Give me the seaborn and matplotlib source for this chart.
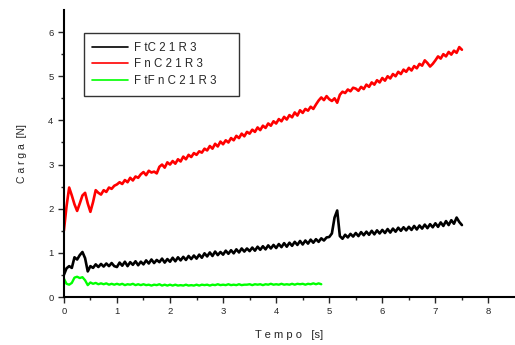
import matplotlib
matplotlib.use("Agg")
import matplotlib.pyplot as plt
import seaborn as sns
import pandas as pd
import numpy as np

# --- DATA (0.05 s steps) ---
step = 0.05

ftc = [0.50, 0.65, 0.70, 0.66, 0.90, 0.85, 0.95, 1.02, 0.88, 0.58,
       0.70, 0.66, 0.74, 0.68, 0.75, 0.69, 0.76, 0.70, 0.77, 0.70,
       0.68, 0.78, 0.71, 0.80, 0.70, 0.79, 0.73, 0.81, 0.72, 0.80,
       0.74, 0.83, 0.76, 0.85, 0.77, 0.84, 0.79, 0.87, 0.78, 0.86,
       0.80, 0.89, 0.81, 0.90, 0.83, 0.91, 0.84, 0.93, 0.86, 0.94,
       0.87, 0.96, 0.89, 0.99, 0.92, 1.01, 0.93, 1.03, 0.95, 1.02,
       0.96, 1.05, 0.98, 1.06, 0.99, 1.08, 1.01, 1.10, 1.03, 1.10,
       1.04, 1.12, 1.05, 1.14, 1.07, 1.15, 1.08, 1.17, 1.10, 1.18,
       1.11, 1.20, 1.13, 1.22, 1.14, 1.23, 1.16, 1.25, 1.18, 1.27,
       1.19, 1.28, 1.21, 1.30, 1.23, 1.31, 1.25, 1.33, 1.28, 1.35,
       1.36, 1.44, 1.80, 1.96, 1.38, 1.32, 1.41, 1.35, 1.43, 1.37,
       1.45, 1.38, 1.47, 1.40, 1.48, 1.41, 1.50, 1.42, 1.51, 1.44,
       1.52, 1.45, 1.54, 1.46, 1.55, 1.48, 1.57, 1.50, 1.58, 1.51,
       1.59, 1.52, 1.61, 1.53, 1.62, 1.55, 1.64, 1.56, 1.65, 1.58,
       1.67, 1.59, 1.69, 1.61, 1.72, 1.63, 1.74, 1.66, 1.80, 1.70, 1.63]

fnc = [1.50, 2.05, 2.48, 2.30, 2.10, 1.95, 2.12, 2.30, 2.36, 2.12,
       1.93, 2.15, 2.42, 2.36, 2.32, 2.42, 2.38, 2.48, 2.45, 2.52,
       2.55, 2.60, 2.56, 2.65, 2.60, 2.70, 2.64, 2.73, 2.70, 2.78,
       2.83, 2.76, 2.86, 2.82, 2.84, 2.80, 2.95, 3.00, 2.93, 3.05,
       3.00, 3.08, 3.02, 3.12, 3.07, 3.18, 3.12, 3.22, 3.17, 3.26,
       3.22, 3.30, 3.27, 3.36, 3.32, 3.42, 3.36, 3.47, 3.41, 3.52,
       3.46, 3.55, 3.50, 3.60, 3.55, 3.65, 3.60, 3.70, 3.64, 3.74,
       3.70, 3.79, 3.74, 3.84, 3.78, 3.88, 3.83, 3.93, 3.88, 3.98,
       3.93, 4.03, 3.98, 4.08, 4.02, 4.12, 4.07, 4.18, 4.11, 4.23,
       4.17, 4.26, 4.22, 4.31, 4.26, 4.36, 4.45, 4.52, 4.46, 4.55,
       4.48, 4.44, 4.50, 4.40, 4.58, 4.65, 4.62, 4.70, 4.66, 4.74,
       4.72, 4.67, 4.76, 4.71, 4.81, 4.76, 4.86, 4.81, 4.91, 4.86,
       4.96, 4.90, 5.00, 4.95, 5.05, 5.00, 5.10, 5.05, 5.15, 5.10,
       5.19, 5.13, 5.23, 5.18, 5.28, 5.24, 5.36, 5.30, 5.22, 5.28,
       5.36, 5.45, 5.40, 5.50, 5.45, 5.55, 5.49, 5.58, 5.53, 5.66, 5.60]

ftfnc = [0.42, 0.30, 0.28, 0.32, 0.44, 0.46, 0.43, 0.45, 0.38, 0.27,
         0.33, 0.30, 0.32, 0.29, 0.31, 0.29, 0.31, 0.28, 0.30, 0.28,
         0.30, 0.28, 0.30, 0.27, 0.29, 0.28, 0.30, 0.27, 0.29, 0.27,
         0.29, 0.27, 0.28, 0.26, 0.28, 0.27, 0.29, 0.26, 0.28, 0.26,
         0.28, 0.26, 0.28, 0.26, 0.27, 0.26, 0.28, 0.26, 0.27, 0.26,
         0.28, 0.26, 0.28, 0.27, 0.28, 0.26, 0.28, 0.27, 0.29, 0.27,
         0.28, 0.27, 0.29, 0.27, 0.28, 0.27, 0.29, 0.27, 0.28, 0.28,
         0.29, 0.27, 0.29, 0.28, 0.29, 0.27, 0.29, 0.28, 0.30, 0.28,
         0.29, 0.28, 0.30, 0.28, 0.29, 0.28, 0.30, 0.28, 0.30, 0.29,
         0.30, 0.28, 0.30, 0.29, 0.31, 0.29, 0.31, 0.29]

labels = ["F tC 2 1 R 3", "F n C 2 1 R 3", "F tF n C 2 1 R 3    "]
colors = ["black", "#ff0000", "#00ff00"]
widths = [1.9, 1.9, 1.7]

sns.set_style("ticks")
plt.rcParams['font.family'] = ['Liberation Sans', 'DejaVu Sans']

fig = plt.figure(figsize=(5.15, 3.45), dpi=100)
ax = fig.add_axes([0.124, 0.139, 0.876, 0.832])

for vals, lab, col, w in zip([ftc, fnc, ftfnc], labels, colors, widths):
    df = pd.DataFrame({'t': np.arange(len(vals)) * step, 'v': vals})
    sns.lineplot(data=df, x='t', y='v', color=col, label=lab, lw=w, ax=ax)

ax.set_xlim(0, 8.5)
ax.set_ylim(0, 6.5)
ax.set_xticks(range(0, 9))
ax.set_xticks(np.arange(0.5, 8.5, 1), minor=True)
ax.set_yticks(range(0, 7))
ax.set_yticks(np.arange(0.5, 6.5, 1), minor=True)
ax.tick_params(which='major', length=4, width=1, labelsize=6.8, direction='out')
ax.tick_params(which='minor', length=2.5, width=1)
for s in ['top', 'right']:
    ax.spines[s].set_visible(False)
for s in ['left', 'bottom']:
    ax.spines[s].set_linewidth(1.5)
    ax.spines[s].set_color('black')

ax.set_xlabel("T e m p o   [s]", fontsize=8, labelpad=10)
ax.set_ylabel("C a r g a  [N]", fontsize=7.5, labelpad=15)

leg = ax.legend(loc='upper left', bbox_to_anchor=(0.044, 0.92), fontsize=8.3,
                frameon=True, fancybox=False, edgecolor='black',
                borderaxespad=0, handlelength=3.1, handletextpad=0.55,
                borderpad=0.75, labelspacing=0.42)
leg.get_frame().set_linewidth(1.0)
for line in leg.get_lines():
    line.set_linewidth(1.2)

plt.savefig('out.png', dpi=100)
